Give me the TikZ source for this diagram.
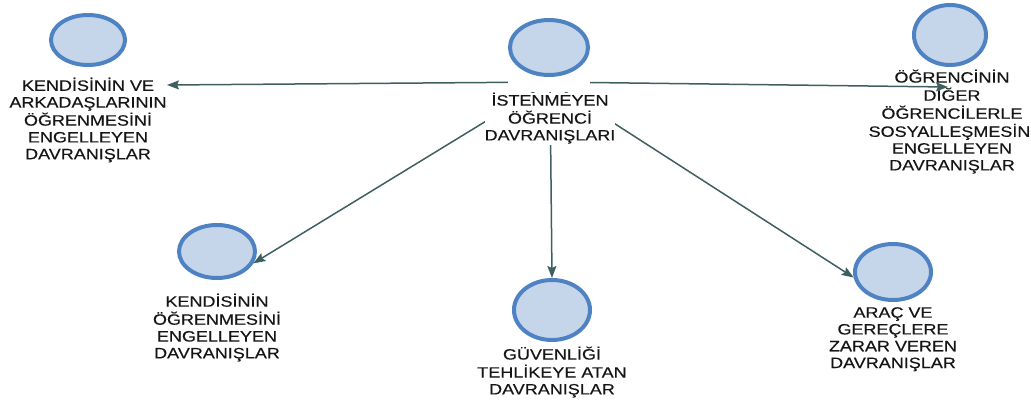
\documentclass[tikz,border=0pt]{standalone}
\usepackage{fontspec}
\usetikzlibrary{arrows.meta,shapes.geometric}
\newfontfamily\labfont[FakeStretch=1.2,FakeBold=0.35]{Liberation Sans}
\newcommand\tb[1]{\begin{tabular}{@{}c@{}}#1\end{tabular}}
\definecolor{bubfill}{HTML}{C5D6EA}
\definecolor{bubline}{HTML}{4F82C2}
\definecolor{arrc}{HTML}{3E5F5F}
\definecolor{txt}{HTML}{151515}
\tikzset{
  bub/.style={ellipse, draw=bubline, fill=bubfill, line width=4pt, inner sep=0pt},
  lab/.style={inner sep=0pt, text=txt, font=\labfont\fontsize{15}{16.8}\selectfont},
  arr/.style={draw=arrc, line width=1.5pt, -{Stealth[length=12pt,width=9pt,inset=2pt]}}
}
\begin{document}
\begin{tikzpicture}[x=1pt,y=-1pt]
\useasboundingbox (0,0) rectangle (1031,405);
% outer nodes
\node[bub, minimum width=74pt, minimum height=50pt] (c1) at (88,40) {};
\node[lab] (l1) at (88,121) {\tb{KENDİSİNİN VE\\ARKADAŞLARININ\\ÖĞRENMESİNİ\\ENGELLEYEN\\DAVRANIŞLAR}};
\node[bub, minimum width=72pt, minimum height=60pt] (c3) at (950,35) {};
\node[lab] (l3) at (952,122.5) {\tb{ÖĞRENCİNİN\\DİĞER\\ÖĞRENCİLERLE\\SOSYALLEŞMESİNİ\\ENGELLEYEN\\DAVRANIŞLAR}};
\node[bub, minimum width=76pt, minimum height=53pt] (c4) at (217,251.5) {};
\node[lab] (l4) at (217,328.5) {\tb{KENDİSİNİN\\ÖĞRENMESİNİ\\ENGELLEYEN\\DAVRANIŞLAR}};
\node[bub, minimum width=76pt, minimum height=60pt] (c5) at (552,310) {};
\node[lab] (l5) at (552,373) {\tb{GÜVENLİĞİ\\TEHLİKEYE ATAN\\DAVRANIŞLAR}};
\node[bub, minimum width=76pt, minimum height=56pt] (c6) at (893,272) {};
\node[lab] (l6) at (893,339.5) {\tb{ARAÇ VE\\GEREÇLERE\\ZARAR VEREN\\DAVRANIŞLAR}};
% connectors
\coordinate (hub) at (550,82);
\coordinate (t1) at (167,85);
\coordinate (t3) at (948,87);
\draw[arr] (hub) -- (t1);
\draw[arr] (hub) -- (t3);
\draw[arr] (hub) -- (c4.-18);
\draw[arr] (hub) -- (c5.north);
\draw[arr] (hub) -- (c6.188);
% central node on top
\node[lab, fill=white] (l2) at (550,119) {\tb{İSTENMEYEN\\ÖĞRENCİ\\DAVRANIŞLARI}};
\node[bub, minimum width=78pt, minimum height=55pt] (c2) at (549,47.5) {};
\fill[white] (c2.west |- c2.north) rectangle (c2.east |- l2.north);
\node[bub, minimum width=78pt, minimum height=55pt] at (c2) {};
\end{tikzpicture}
\end{document}
